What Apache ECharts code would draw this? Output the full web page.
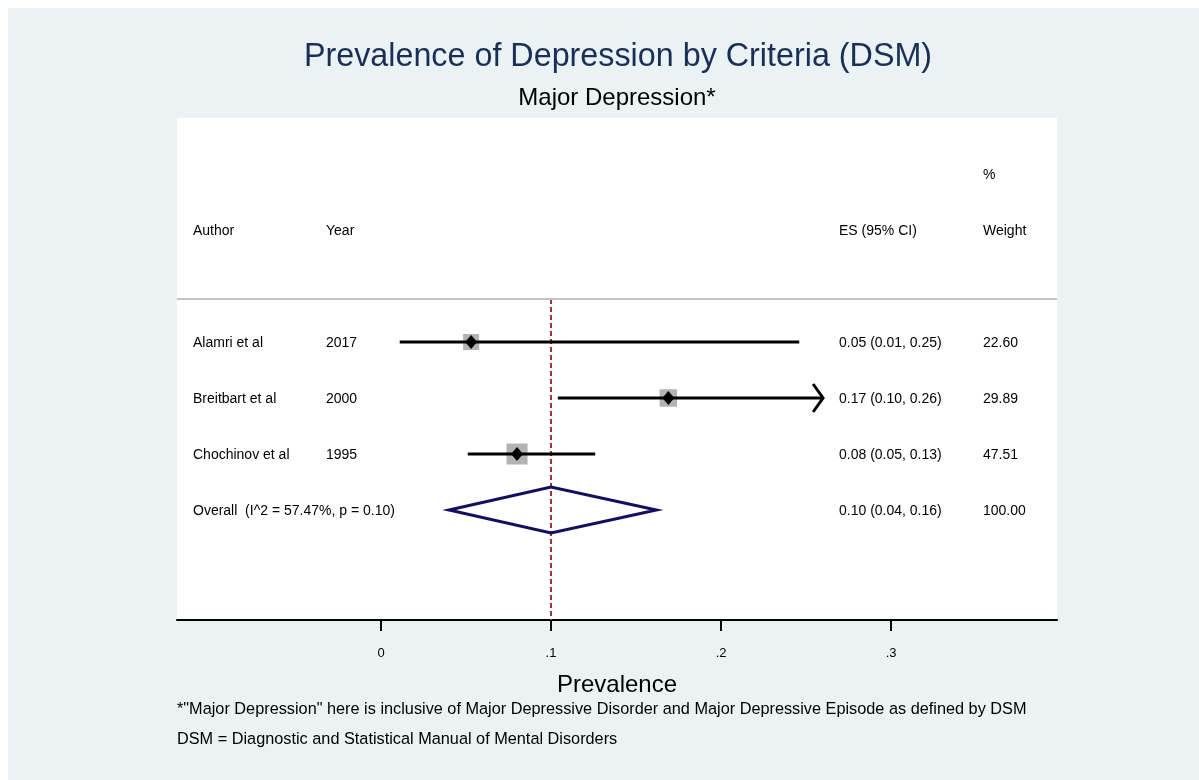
<!DOCTYPE html>
<html><head><meta charset="utf-8">
<script src="https://cdn.jsdelivr.net/npm/echarts@6/dist/echarts.min.js"></script>
<style>html,body{margin:0;padding:0;background:#fff}#c{width:1199px;height:780px}</style>
</head><body><div id="c"></div>
<script>
// ---- data ----
const authors = ['Alamri et al', 'Breitbart et al', 'Chochinov et al'];
const years = ['2017', '2000', '1995'];
const es = [0.053, 0.169, 0.080];
const lo = [0.011, 0.104, 0.051];
const hi = [0.246, 0.260, 0.126];
const weights = [22.60, 29.89, 47.51];
const truncatedHigh = [false, true, false];
const overallES = 0.100;
const overallLo = 0.040;
const overallHi = 0.162;
const overallWeight = 100.00;
const i2 = 57.47;
const pHet = 0.10;
const xTicks = [0, 0.1, 0.2, 0.3];

// ---- layout ----
const FONT = "'Liberation Sans', Arial, Helvetica, sans-serif";
const studyRows = [4, 5, 6];
const overallRow = 7;
const pctRow = 1, headerRow = 2, sepRow = 3.23;
const colX = [193, 326, 839, 983];

const fmt2 = v => v.toFixed(2);
const tableRows = [];
tableRows.push({row: pctRow, cols: ['', '', '', '%']});
tableRows.push({row: headerRow, cols: ['Author', 'Year', 'ES (95% CI)', 'Weight']});
authors.forEach((a, i) => tableRows.push({row: studyRows[i], cols: [a, years[i],
  fmt2(es[i]) + ' (' + fmt2(lo[i]) + ', ' + fmt2(hi[i]) + ')', fmt2(weights[i])]}));
tableRows.push({row: overallRow, cols: ['Overall  (I^2 = ' + fmt2(i2) + '%, p = ' + fmt2(pHet) + ')', '',
  fmt2(overallES) + ' (' + fmt2(overallLo) + ', ' + fmt2(overallHi) + ')', fmt2(overallWeight)]});

const chart = echarts.init(document.getElementById('c'), null, {renderer: 'canvas'});
const option = {
  backgroundColor: '#ffffff',
  animation: false,
  textStyle: {fontFamily: FONT},
  graphic: [
    {type: 'rect', z: -10, shape: {x: 8, y: 8, width: 1191, height: 772}, style: {fill: '#eaf2f3'}, silent: true},
    {type: 'text', x: 618, y: 57, style: {text: 'Prevalence of Depression by Criteria (DSM)', font: '32.3px ' + FONT, fill: '#1a2f57', textAlign: 'center', textVerticalAlign: 'middle'}},
    {type: 'text', x: 617, y: 98, style: {text: 'Major Depression*', font: '24px ' + FONT, fill: '#000', textAlign: 'center', textVerticalAlign: 'middle'}},
    {type: 'text', x: 177, y: 710, style: {text: '*"Major Depression" here is inclusive of Major Depressive Disorder and Major Depressive Episode as defined by DSM', font: '16.3px ' + FONT, fill: '#000', textAlign: 'left', textVerticalAlign: 'middle'}},
    {type: 'text', x: 177, y: 740, style: {text: 'DSM = Diagnostic and Statistical Manual of Mental Disorders', font: '16.3px ' + FONT, fill: '#000', textAlign: 'left', textVerticalAlign: 'middle'}}
  ],
  grid: {left: 177, top: 118, width: 880, height: 502, show: true, backgroundColor: '#ffffff', borderWidth: 0, containLabel: false},
  xAxis: {
    type: 'value', min: -0.12, max: 0.3976, position: 'bottom',
    axisLine: {show: true, onZero: false, lineStyle: {color: '#000', width: 2}},
    axisTick: {show: true, customValues: xTicks, length: 11, lineStyle: {color: '#000', width: 2}},
    axisLabel: {show: true, customValues: xTicks, margin: 27, fontSize: 13, color: '#000', fontFamily: FONT,
      formatter: v => v === 0 ? '0' : String(+v.toFixed(2)).replace(/^0\./, '.')},
    splitLine: {show: false},
    name: 'Prevalence', nameLocation: 'middle', nameGap: 53,
    nameTextStyle: {fontSize: 24, color: '#000', fontFamily: FONT}
  },
  yAxis: {type: 'value', inverse: true, min: 0, max: 502 / 56, show: false},
  series: [
    {
      type: 'line', symbol: 'none', silent: true, z: 1,
      data: [[overallES, sepRow], [overallES, 502 / 56]],
      lineStyle: {color: '#9a3038', width: 2, type: [5, 3]},
      markLine: {silent: true, symbol: 'none', label: {show: false},
        lineStyle: {color: '#c4c4c4', width: 2, type: 'solid'},
        data: [{yAxis: sepRow}]}
    },
    {
      type: 'custom', z: 3, clip: false,
      data: es.map((v, i) => [v, studyRows[i], lo[i], hi[i], weights[i]]),
      renderItem: (params, api) => {
        const i = params.dataIndex;
        const c = api.coord([api.value(0), api.value(1)]);
        const l = api.coord([api.value(2), api.value(1)]);
        const h = api.coord([api.value(3), api.value(1)]);
        const s = 11.5 + 0.2 * api.value(4);
        const ch = [
          {type: 'rect', shape: {x: c[0] - s / 2, y: c[1] - s / 2, width: s, height: s}, style: {fill: '#b3b3b3'}},
          {type: 'line', shape: {x1: l[0], y1: l[1], x2: h[0], y2: h[1]}, style: {stroke: '#000', lineWidth: 3}}
        ];
        if (truncatedHigh[i]) {
          ch.push({type: 'polyline', shape: {points: [[h[0] - 10, h[1] - 14], [h[0], h[1]], [h[0] - 10, h[1] + 14]]}, style: {stroke: '#000', lineWidth: 3, fill: null}});
        }
        ch.push({type: 'polygon', shape: {points: [[c[0] - 6, c[1]], [c[0], c[1] - 7], [c[0] + 6, c[1]], [c[0], c[1] + 7]]}, style: {fill: '#000'}});
        return {type: 'group', children: ch};
      }
    },
    {
      type: 'custom', z: 3, clip: false,
      data: [[overallES, overallRow, overallLo, overallHi]],
      renderItem: (params, api) => {
        const r = api.value(1);
        const top = api.coord([api.value(0), r - 0.41]);
        const bot = api.coord([api.value(0), r + 0.41]);
        const l = api.coord([api.value(2), r]);
        const h = api.coord([api.value(3), r]);
        return {type: 'polygon', shape: {points: [l, top, h, bot]}, style: {stroke: '#10105f', lineWidth: 3, fill: null}};
      }
    },
    {
      type: 'custom', z: 4, clip: false,
      data: tableRows.map(t => [0, t.row]),
      renderItem: (params, api) => {
        const t = tableRows[params.dataIndex];
        const y = api.coord([0, api.value(1)])[1] + 1;
        return {type: 'group', children: t.cols.map((txt, k) => ({
          type: 'text', x: colX[k], y: y,
          style: {text: txt, font: '14px ' + FONT, fill: '#000', textAlign: 'left', textVerticalAlign: 'middle'}
        }))};
      }
    }
  ]
};
chart.setOption(option);
</script></body></html>
